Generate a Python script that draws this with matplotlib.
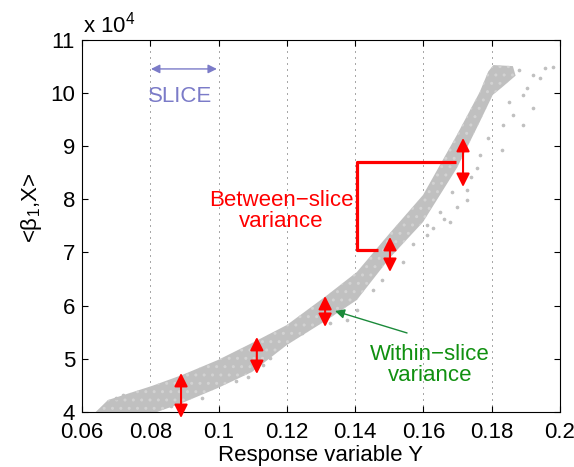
import numpy as np
import matplotlib
matplotlib.use("Agg")
import matplotlib.pyplot as plt

plt.rcParams['font.family'] = ['Liberation Sans', 'DejaVu Sans']
plt.rcParams['mathtext.default'] = 'regular'
plt.rcParams['hatch.linewidth'] = 1.0

# outline of the dense point cloud (upper-left edge, then lower-right edge)
upper_x = [0.0640, 0.0676, 0.0805, 0.0893, 0.0998, 0.1098, 0.1200, 0.1317,
           0.1405, 0.1502, 0.1599, 0.1698, 0.1765, 0.1790, 0.1805, 0.1862]
upper_y = [40000, 42250, 44900, 46950, 49770, 52970, 56350, 61900,
           66300, 73650, 80790, 92070, 100150, 104000, 105200, 105000]
lower_x = [0.1870, 0.1830, 0.1803, 0.1765, 0.1698, 0.1599, 0.1502, 0.1405,
           0.1317, 0.1200, 0.1098, 0.0998, 0.0893, 0.0820]
lower_y = [103200, 101000, 99590, 94510, 85860, 75710, 69000, 61050,
           57290, 52590, 47520, 44510, 41690, 40000]

# scattered points outside the dense band
stray_x = [0.1891, 0.1921, 0.1891, 0.1830, 0.1765, 0.1757, 0.1727, 0.1683,
           0.1727, 0.1698, 0.1678, 0.1648, 0.1628, 0.1610, 0.1956, 0.1979,
           0.1941, 0.1921, 0.1903, 0.1862, 0.1833, 0.1452, 0.1405, 0.1326,
           0.1244, 0.1376, 0.0951, 0.1019, 0.1077, 0.1086, 0.1610, 0.1880,
           0.1850, 0.1790, 0.1740, 0.1660, 0.1570, 0.1540, 0.1480, 0.1150,
           0.1130, 0.1050, 0.0920, 0.0860, 0.0720, 0.0700]
stray_y = [99590, 97140, 93950, 89250, 88310, 85860, 81730, 81350,
           79850, 78530, 75710, 77590, 74590, 73270, 104660, 104850,
           102780, 103350, 100900, 95830, 93950, 62930, 59170, 56730,
           54850, 57290, 42630, 47330, 48460, 46580, 75150, 104200,
           98200, 91500, 84200, 76200, 71500, 68200, 64800, 50200,
           48900, 45900, 43100, 41200, 43100, 42700]

# within-slice spread arrows
arrow_x = [0.0890, 0.1112, 0.1312, 0.1502, 0.1716]
arrow_lo = [38870, 47140, 55980, 66320, 82290]
arrow_hi = [47330, 54100, 61800, 72890, 91500]

# between-slice bracket
bracket_x = [0.1695, 0.1405, 0.1405, 0.1467]
bracket_y = [87000, 87000, 70450, 70450]

x_ticks = [0.06, 0.08, 0.1, 0.12, 0.14, 0.16, 0.18, 0.2]
x_labels = ['0.06', '0.08', '0.1', '0.12', '0.14', '0.16', '0.18', '0.2']
y_ticks = [4, 5, 6, 7, 8, 9, 10, 11]

gray = '#c0c0c0'

fig = plt.figure(figsize=(5.74, 4.67), dpi=100)
ax = fig.add_axes([0.1429, 0.1178, 0.8327, 0.7976])

# point cloud: filled band with a speckled texture plus loose points
ax.fill(upper_x + lower_x, upper_y + lower_y, facecolor=gray,
        edgecolor='#d2d2d2', hatch='..', lw=0, zorder=2)
ax.scatter(stray_x, stray_y, s=7, color=gray, lw=0, zorder=2)

for x, lo, hi in zip(arrow_x, arrow_lo, arrow_hi):
    ax.annotate('', xy=(x, lo), xytext=(x, hi), annotation_clip=False,
                arrowprops=dict(arrowstyle='<|-|>', color='red', lw=1.5,
                                mutation_scale=20, shrinkA=0, shrinkB=0),
                zorder=4)

ax.plot(bracket_x, bracket_y, color='red', lw=2.3, solid_capstyle='butt',
        zorder=3)
ax.text(0.1183, 77780, 'Between\u2212slice\nvariance', color='red',
        fontsize=16, ha='center', va='center', linespacing=1.05)

ax.annotate('', xy=(0.1341, 58980), xytext=(0.1552, 54850),
            arrowprops=dict(arrowstyle='-|>', color='#1b8a3a', lw=1.0,
                            mutation_scale=14, shrinkA=0, shrinkB=0),
            zorder=4)
ax.text(0.1619, 48830, 'Within\u2212slice\nvariance', color='#109010',
        fontsize=16, ha='center', va='center', linespacing=1.05)

ax.annotate('', xy=(0.0802, 104470), xytext=(0.0995, 104470),
            arrowprops=dict(arrowstyle='<|-|>', color='#7b7bc8', lw=1.0,
                            mutation_scale=13, shrinkA=0, shrinkB=0))
ax.text(0.0887, 99200, 'SLICE', color='#7b7bc8', fontsize=16,
        ha='center', va='center')

ax.set_xlim(0.06, 0.2)
ax.set_ylim(40000, 110000)
ax.set_xticks(x_ticks)
ax.set_xticklabels(x_labels)
ax.set_yticks([v * 1e4 for v in y_ticks])
ax.set_yticklabels([str(v) for v in y_ticks])
ax.tick_params(direction='in', length=4, width=0.8, labelsize=16,
               top=True, right=True)
ax.tick_params(axis='x', pad=7)
ax.tick_params(axis='y', pad=5)
for s in ax.spines.values():
    s.set_linewidth(0.8)

ax.set_axisbelow(True)
ax.grid(axis='x', color='#303030', lw=0.6, dashes=(1.2, 6))

ax.text(0.002, 1.02, 'x 10$^4$', transform=ax.transAxes, fontsize=16,
        ha='left', va='baseline')
ax.set_xlabel('Response variable Y', fontsize=16, labelpad=2)
ax.set_ylabel('<\u03b2$_1$,X>', fontsize=16)
ax.yaxis.set_label_coords(-0.08, 0.548)

fig.savefig('out.png', dpi=100)
